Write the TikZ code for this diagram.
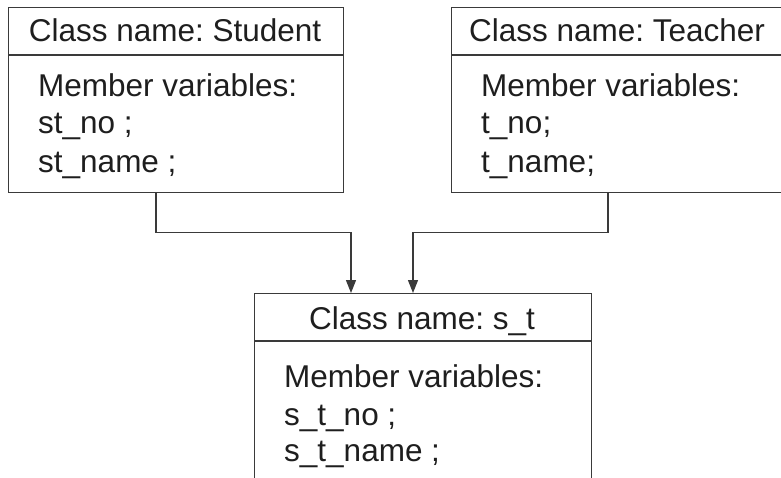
\documentclass[tikz,border=0pt]{standalone}
\usepackage{fontspec}
\setmainfont{Liberation Sans}
\usetikzlibrary{arrows.meta}
\definecolor{linegray}{HTML}{3A3A3A}
\definecolor{txt}{HTML}{1E1E1E}
\frenchspacing
\begin{document}
\begin{tikzpicture}[x=1pt,y=-1pt,
  classbox/.style={draw=linegray,line width=1.4pt,rectangle,inner sep=0pt,anchor=north west},
  hdr/.style={anchor=base,inner sep=0pt,text=txt,font=\fontsize{31.5}{37}\selectfont},
  mem/.style={anchor=base west,inner sep=0pt,text=txt,font=\fontsize{31.5}{37}\selectfont},
  divider/.style={draw=linegray,line width=1.4pt},
  conn/.style={draw=linegray,line width=1.2pt,-{Triangle[length=13pt,width=10pt]}}]
\useasboundingbox (0,0) rectangle (781,478);
\clip (0,0) rectangle (781,478);
% boxes
\node[classbox,minimum width=335pt,minimum height=185pt] (stu) at (8,7) {};
\node[classbox,minimum width=332pt,minimum height=185pt] (tea) at (451,7) {};
\node[classbox,minimum width=337pt,minimum height=230pt] (bot) at (254,293) {};
% header dividers
\draw[divider] ([yshift=-48pt]stu.north west) -- ([yshift=-48pt]stu.north east);
\draw[divider] ([yshift=-48pt]tea.north west) -- ([yshift=-48pt]tea.north east);
\draw[divider] ([yshift=-48pt]bot.north west) -- ([yshift=-48pt]bot.north east);
% Student
\node[hdr] (stuh) at (175,42) {Class name: Student};
\node[mem] (stu1) at (38,97) {Member variables:};
\node[mem] (stu2) at (38,134) {st\_no ;};
\node[mem] (stu3) at (38,173) {st\_name ;};
% Teacher
\node[hdr] (teah) at (617,42) {Class name: Teacher};
\node[mem] (tea1) at (481,97) {Member variables:};
\node[mem] (tea2) at (481,134) {t\_no;};
\node[mem] (tea3) at (481,173) {t\_name;};
% s_t
\node[hdr] (both) at (422,329) {Class name: s\_t};
\node[mem] (bot1) at (284,387) {Member variables:};
\node[mem] (bot2) at (284,425) {s\_t\_no ;};
\node[mem] (bot3) at (284,461) {s\_t\_name ;};
% connectors
\draw[conn] ([xshift=148pt]stu.south west) -- ++(0,39) -| ([xshift=97pt]bot.north west);
\draw[conn] ([xshift=157pt]tea.south west) -- ++(0,39) -| ([xshift=159pt]bot.north west);
\end{tikzpicture}
\end{document}
